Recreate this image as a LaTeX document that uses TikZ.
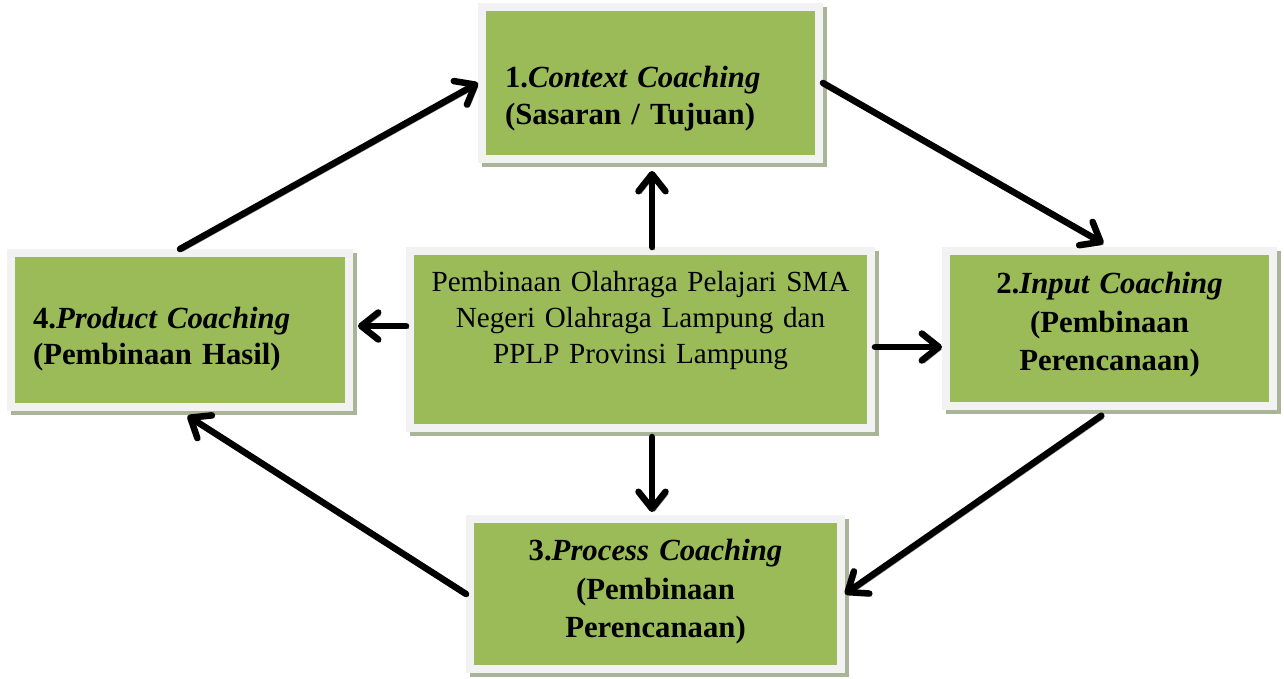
\documentclass[tikz,border=0pt]{standalone}
\usepackage{fontspec}
\setmainfont{Liberation Serif}
\usetikzlibrary{positioning, calc, arrows.meta}
\definecolor{boxGreen}{RGB}{155, 187, 89}
\definecolor{boxFrame}{RGB}{242, 242, 242}
\definecolor{boxShade}{RGB}{170, 180, 152}
\definecolor{arrowShade}{RGB}{140, 140, 140}

\begin{document}
\begin{tikzpicture}[x=0.02cm, y=-0.02cm,
    stage/.style={fill=boxGreen, draw=boxFrame, line width=0.15cm, inner sep=0pt,
      preaction={draw=boxShade, fill=boxShade, transform canvas={shift={(0.08cm,-0.08cm)}}},
      font=\fontsize{17.5}{20.5}\selectfont\bfseries, align=center, text height=0pt},
    flow/.style={line width=0.13cm, line cap=round,
      -{Straight Barb[length=0.34cm, width=0.54cm, round]},
      preaction={draw=arrowShade, transform canvas={shift={(0.05cm,-0.05cm)}}}}]
    %
    % Coordinates in pixels of the 1284 x 679 frame (y grows downwards).
    % text depth lifts the first baseline above the box centre.
    %
    \useasboundingbox (0,0) rectangle (1284,679);

    %% ── the four coaching stages ─────────────────────────────────────
    \node[stage, minimum width=6.75cm, minimum height=3.05cm,
          text width=5.82cm, align=left, text height=0.2cm, text depth=0pt] (context) at (650.5,83)
      {1.\textit{Context Coaching}\\(Sasaran / Tujuan)};
    \node[stage, font=\fontsize{17.5}{22}\selectfont\bfseries,
          minimum width=6.55cm, minimum height=3.11cm,
          text width=5.8cm, text depth=1.4cm] (input) at (1109.5,328.5)
      {2.\textit{Input Coaching}\\(Pembinaan\\Perencanaan)};
    \node[stage, font=\fontsize{17.5}{22}\selectfont\bfseries,
          minimum width=7.43cm, minimum height=3.01cm,
          text width=6.6cm, text depth=1.34cm] (process) at (655.5,594)
      {3.\textit{Process Coaching}\\(Pembinaan\\Perencanaan)};
    \node[stage, minimum width=6.77cm, minimum height=3.09cm,
          text width=5.88cm, align=left, text depth=0.08cm] (product) at (180,330)
      {4.\textit{Product Coaching}\\(Pembinaan Hasil)};

    %% ── centre box ──────────────────────────────────────────────────
    \node[stage, font=\fontsize{16.6}{20.5}\selectfont,
          minimum width=9.23cm, minimum height=3.55cm,
          text width=8.8cm, text depth=1.94cm] (hub) at (640.5,339.5)
      {Pembinaan Olahraga Pelajari SMA\\Negeri Olahraga Lampung dan\\PPLP Provinsi Lampung};

    %% ── cycle ───────────────────────────────────────────────────────
    \draw[flow] (product.north) -- (context.west);
    \draw[flow, shorten >=0.14cm] (context.east) -- (input.north);
    \draw[flow, shorten <=0.2cm] (input.south) -- (process.east);
    \draw[flow, shorten >=0.18cm] (process.west) -- (product.south);

    %% ── from the centre outwards ────────────────────────────────────
    \draw[flow, shorten >=0.16cm] ([xshift=0.23cm]hub.north) -- ([xshift=0.23cm]hub.north |- context.south);
    \draw[flow] ([yshift=-0.15cm]hub.east) -- ([yshift=-0.15cm]hub.east -| input.west);
    \draw[flow, shorten <=0.1cm, shorten >=0.06cm] ([xshift=0.23cm]hub.south) -- ([xshift=0.23cm]hub.south |- process.north);
    \draw[flow, shorten >=0.1cm] ([yshift=0.27cm]hub.west) -- ([yshift=0.27cm]hub.west -| product.east);

  \end{tikzpicture}
\end{document}
